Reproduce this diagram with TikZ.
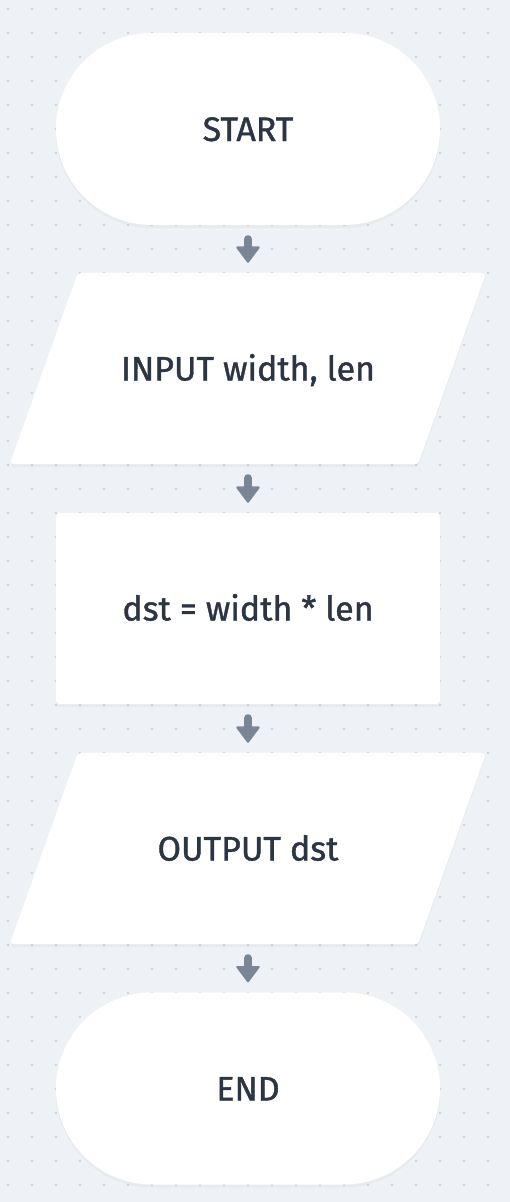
\documentclass[tikz,border=0pt]{standalone}
\usepackage{fontspec}
\setmainfont{Fira Sans}[FakeBold=1.1]
\usetikzlibrary{arrows.meta,shapes.misc,shadows,calc,backgrounds}
\definecolor{bg}{HTML}{EEF2F6}
\definecolor{dotc}{HTML}{C4C9D2}
\definecolor{txt}{HTML}{2B3543}
\definecolor{arrc}{HTML}{7A8595}
\begin{document}
\begin{tikzpicture}[x=1pt,y=-1pt,
  shade/.style={drop shadow={opacity=0.06,shadow xshift=0pt,shadow yshift=-3pt}},
  box/.style={text=txt, font=\fontsize{34}{40}\selectfont,
    inner sep=0pt, text height=24pt, text depth=0pt},
  term/.style={box, fill=white, shade, rounded rectangle, minimum width=384pt, minimum height=192pt},
  proc/.style={box, fill=white, shade, rectangle, rounded corners=4pt, minimum width=384pt, minimum height=191pt},
  iobox/.style={box, rectangle, minimum width=476pt, minimum height=191pt},
  iofill/.style={fill=white, shade, rounded corners=4pt},
  arr/.style={draw=arrc, line width=8pt, line cap=round, shorten <=14pt, shorten >=10pt,
    -{Triangle[width=25pt,length=17pt,line width=2pt,round]}}]
\begin{scope}[on background layer]
\fill[bg] (0,0) rectangle (510,1202);
\foreach \i in {0,...,20}{
  \foreach \j in {0,...,49}{
    \fill[dotc] (8+24*\i, 9+24*\j) circle (1.15pt);
  }
}
\end{scope}
\useasboundingbox (0,0) rectangle (510,1202);
\node[term]  (start) at (248,129)    {START};
\node[iobox] (in)    at (248,368.5)  {INPUT width, len};
\node[proc]  (calc)  at (248,608.5)  {dst = width * len};
\node[iobox] (out)   at (248,848.5)  {OUTPUT dst};
\node[term]  (end)   at (248,1088.5) {END};
\begin{scope}[on background layer]
\foreach \n in {in,out}{
  \fill[iofill] ($(\n.north west)+(68,0)$) -- (\n.north east)
    -- ($(\n.south east)-(68,0)$) -- (\n.south west) -- cycle;
}
\end{scope}
\draw[arr] (start.south) -- (in.north);
\draw[arr] (in.south) -- (calc.north);
\draw[arr] (calc.south) -- (out.north);
\draw[arr] (out.south) -- (end.north);
\end{tikzpicture}
\end{document}
